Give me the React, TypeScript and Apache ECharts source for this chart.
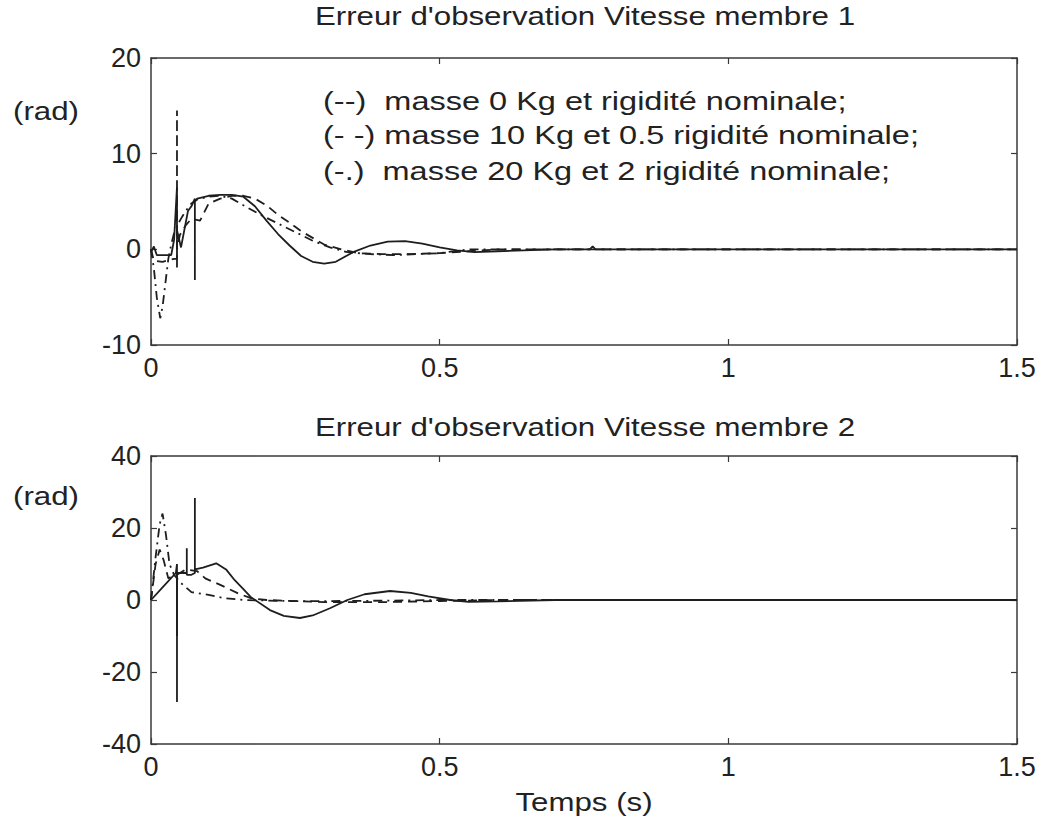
import React, { useEffect, useRef } from "react";
import * as echarts from "echarts";

// ---------- Data (time in s, error in rad) ----------
const xTicks = [0, 0.5, 1, 1.5];
const topYTicks = [-10, 0, 10, 20];
const botYTicks = [-40, -20, 0, 20, 40];

const titleTop = "Erreur d'observation Vitesse membre 1";
const titleBot = "Erreur d'observation Vitesse membre 2";
const yUnit = "(rad)";
const xName = "Temps (s)";
const legendLines = [
  "(--)  masse 0 Kg et rigidité nominale;",
  "(- -) masse 10 Kg et 0.5 rigidité nominale;",
  "(-.)  masse 20 Kg et 2 rigidité nominale;",
];

// Top plot - solid curve
const topSolidT = [0, 0.005, 0.01, 0.02, 0.035, 0.04, 0.045, 0.045, 0.045, 0.052, 0.064, 0.07, 0.076, 0.076, 0.076, 0.08, 0.1, 0.12, 0.14, 0.16, 0.18, 0.2, 0.22, 0.24, 0.26, 0.28, 0.3, 0.32, 0.35, 0.38, 0.41, 0.44, 0.47, 0.5, 0.53, 0.56, 0.6, 0.7, 0.76, 0.765, 0.77, 0.9, 1.0, 1.2, 1.5];
const topSolidV = [-0.3, 0.3, -0.6, -0.6, -0.6, 1, 6.5, -1.9, 2, 0.2, 4, 4.5, 5.3, -3.2, 5, 5.3, 5.6, 5.7, 5.7, 5.5, 4.5, 3, 1.6, 0.4, -0.7, -1.3, -1.5, -1.3, -0.3, 0.4, 0.8, 0.85, 0.6, 0.2, -0.1, -0.3, -0.2, 0, 0, 0.3, 0, 0, 0, 0, 0];
// Top plot - dashed curve
const topDashT = [0, 0.005, 0.02, 0.04, 0.045, 0.045, 0.045, 0.05, 0.06, 0.07, 0.085, 0.1, 0.12, 0.14, 0.16, 0.18, 0.2, 0.22, 0.24, 0.26, 0.28, 0.3, 0.33, 0.36, 0.4, 0.45, 0.5, 0.55, 0.6, 1.5];
const topDashV = [0, -1.2, -1.3, -1.0, -1, 14.5, 0, 1.5, 2.5, 3.2, 3, 4.8, 5.3, 5.6, 5.6, 5.3, 4.6, 3.6, 2.8, 1.9, 1.2, 0.5, 0, -0.4, -0.5, -0.5, -0.4, -0.2, 0, 0];
// Top plot - dash-dot curve
const topDotT = [0, 0.005, 0.01, 0.016, 0.02, 0.025, 0.03, 0.035, 0.04, 0.05, 0.06, 0.07, 0.08, 0.1, 0.12, 0.14, 0.16, 0.19, 0.22, 0.25, 0.28, 0.31, 0.34, 0.38, 0.42, 0.46, 0.5, 0.55, 1.5];
const topDotV = [0, -2, -5, -7.2, -6, -3.5, -1, 0.5, 1.7, 3, 4, 4.8, 5.2, 5.5, 5.6, 5.3, 4.6, 3.6, 2.7, 1.8, 0.9, 0.2, -0.3, -0.5, -0.6, -0.5, -0.4, 0, 0];

// Bottom plot - solid curve
const botSolidT = [0, 0.02, 0.043, 0.045, 0.045, 0.045, 0.055, 0.062, 0.062, 0.062, 0.07, 0.076, 0.076, 0.076, 0.09, 0.113, 0.13, 0.145, 0.16, 0.173, 0.206, 0.23, 0.258, 0.28, 0.31, 0.34, 0.37, 0.414, 0.45, 0.48, 0.518, 0.55, 0.6, 0.7, 1.0, 1.5];
const botSolidV = [0, 3.5, 7.5, 10, -10, 7.5, 7.5, 7.5, 14.4, 7, 7, 7.5, 28.3, 8.5, 9, 10.2, 8.5, 5.5, 3, 0.8, -2.8, -4.4, -5, -4.3, -2.3, 0, 1.6, 2.5, 2, 1, 0, -0.5, -0.4, 0, 0, 0];
// Bottom plot - dashed curve
const botDashT = [0, 0.008, 0.015, 0.022, 0.03, 0.04, 0.045, 0.045, 0.045, 0.06, 0.08, 0.094, 0.12, 0.15, 0.173, 0.2, 0.3, 0.4, 0.5, 0.6, 1.5];
const botDashV = [0, 10, 14, 11, 6, 7, 7, -28.3, 7, 8.5, 8, 6, 4.2, 1.9, 0.5, 0, -0.6, -0.6, -0.3, 0, 0];
// Bottom plot - dash-dot curve
const botDotT = [0, 0.008, 0.015, 0.02, 0.026, 0.032, 0.04, 0.052, 0.07, 0.1, 0.128, 0.16, 0.24, 0.3, 0.4, 0.5, 1.5];
const botDotV = [0, 12, 21, 24, 18, 10, 7, 4.7, 2.2, 1.4, 0.5, 0, -0.3, -0.3, -0.2, 0, 0];

const zip = (t: number[], v: number[]) => t.map((x, i) => [x, v[i]]);

const FONT = "Liberation Sans, Arial, Helvetica, sans-serif";
const INK = "#1e1e1e";
const FRAME = "#3a3a3a";

const G = [
  { left: 151, top: 58, width: 866, height: 287 },
  { left: 151, top: 456, width: 866, height: 288 },
];

export default function App() {
  const ref = useRef<HTMLDivElement>(null);
  useEffect(() => {
    document.body.style.margin = "0";
    const chart = echarts.init(ref.current!, null, { renderer: "svg" });

    const axisCommon = {
      axisLine: { show: true, onZero: false, lineStyle: { color: FRAME, width: 1.5 } },
      axisTick: { show: true, inside: true, length: 6, lineStyle: { color: FRAME, width: 1.2 } },
      splitLine: { show: false },
    };
    const labelStyle = { color: "#222", fontFamily: FONT, fontSize: 27 };

    const xAxes: any[] = [];
    const yAxes: any[] = [];
    [0, 1].forEach((g) => {
      xAxes.push({
        type: "value", gridIndex: g, min: xTicks[0], max: xTicks[xTicks.length - 1], interval: 0.5,
        position: "bottom", ...axisCommon,
        axisLabel: { ...labelStyle, margin: 9 },
      });
      xAxes.push({
        type: "value", gridIndex: g, min: xTicks[0], max: xTicks[xTicks.length - 1], interval: 0.5,
        position: "top", ...axisCommon, axisLabel: { show: false },
      });
      const yt = g === 0 ? topYTicks : botYTicks;
      const iv = yt[1] - yt[0];
      yAxes.push({
        type: "value", gridIndex: g, min: yt[0], max: yt[yt.length - 1], interval: iv,
        position: "left", ...axisCommon,
        axisLabel: { ...labelStyle, margin: 10 },
      });
      yAxes.push({
        type: "value", gridIndex: g, min: yt[0], max: yt[yt.length - 1], interval: iv,
        position: "right", ...axisCommon, axisLabel: { show: false },
      });
    });

    const mk = (name: string, data: number[][], g: number, type: any) => ({
      name, type: "line", data, xAxisIndex: g * 2, yAxisIndex: g * 2,
      showSymbol: false, symbol: "none", clip: true,
      lineStyle: { color: INK, width: 1.8, type },
    });

    const dashed = [9, 6];
    const dashDot = [9, 5, 2, 5];

    const series = [
      mk("s1", zip(topSolidT, topSolidV), 0, "solid"),
      mk("d1", zip(topDashT, topDashV), 0, dashed),
      mk("dd1", zip(topDotT, topDotV), 0, dashDot),
      mk("s2", zip(botSolidT, botSolidV), 1, "solid"),
      mk("d2", zip(botDashT, botDashV), 1, dashed),
      mk("dd2", zip(botDotT, botDotV), 1, dashDot),
    ];

    const txt = (s: string, x: number, y: number, size: number, sx: number, align: string) => ({
      type: "text", x, y, scaleX: sx,
      style: { text: s, fill: "#222", font: `${size}px ${FONT}`, textAlign: align, textVerticalAlign: "middle" },
    });
    const legendY = [101, 135, 171];
    const graphic: any[] = [
      txt(titleTop, 585, 16, 25, 1.25, "center"),
      txt(titleBot, 585, 427, 25, 1.25, "center"),
      txt(yUnit, 13, 111, 25, 1.25, "left"),
      txt(yUnit, 13, 496, 25, 1.25, "left"),
      txt(xName, 584, 802, 25, 1.25, "center"),
      ...legendLines.map((s, i) => txt(s, 323, legendY[i], 25, 1.3, "left")),
    ];

    chart.setOption({
      animation: false,
      backgroundColor: "#ffffff",
      grid: G,
      xAxis: xAxes,
      yAxis: yAxes,
      series,
      graphic,
    });
    return () => chart.dispose();
  }, []);
  return <div ref={ref} style={{ width: 1045, height: 821 }} />;
}
